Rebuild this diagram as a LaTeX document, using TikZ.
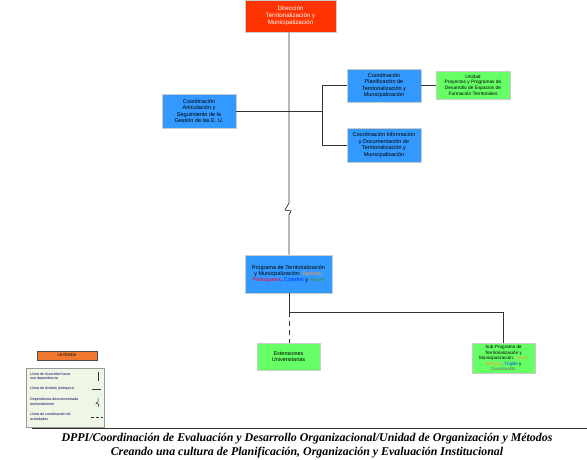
\documentclass[tikz,border=0pt]{standalone}
\usepackage{fontspec}
\setmainfont{Liberation Sans}
\newfontfamily\footfont{Liberation Serif}
\begin{document}
\begin{tikzpicture}[x=1pt,y=-1pt,
  box/.style={draw=gray!40, line width=0.6pt, inner sep=0pt, align=center, font=\fontsize{5.5}{6.4}\selectfont},
  bluebox/.style={box, fill=blue1},
  greenbox/.style={box, fill=green1},
  conn/.style={draw=black!80, line width=0.7pt},
  dconn/.style={conn, dash pattern=on 5pt off 4pt},
  legtext/.style={inner sep=0pt, anchor=west, align=left, text=black!60!blue, font=\fontsize{3.6}{4.8}\selectfont}
]
\definecolor{blue1}{HTML}{3399FF}
\definecolor{green1}{HTML}{66FF66}
\definecolor{red1}{HTML}{FF3300}
\definecolor{orange1}{HTML}{F07830}
\definecolor{legbg}{HTML}{EEF6E6}
\definecolor{tbar}{HTML}{FF9933}
\definecolor{tred}{HTML}{FF0033}
\definecolor{tblue}{HTML}{0033FF}
\definecolor{tgreen}{HTML}{339933}
\useasboundingbox (0,0) rectangle (587,460);

% boxes
\node[box, fill=red1, text=white, minimum width=91pt, minimum height=32pt, font=\fontsize{6.2}{7.2}\selectfont] (dir) at (290.5,16) {Dirección\\Territorialización y\\Municipalización};
\node[bluebox, minimum width=74pt, minimum height=34pt] (art) at (199,111) {Coordinación\\Articulación y\\Seguimiento de la\\Gestión de las E. U.};
\node[bluebox, minimum width=74pt, minimum height=33pt] (plan) at (384,85.5) {Coordinación\\Planificación de\\Territorialización y\\Municipalización};
\node[greenbox, minimum width=74pt, minimum height=28pt, font=\fontsize{4.8}{5.6}\selectfont] (unid) at (473,85) {Unidad\\Proyectos y Programas de\\Desarrollo de Espacios de\\Formación Territoriales};
\node[bluebox, minimum width=74pt, minimum height=34pt] (info) at (384,145) {Coordinación Información\\y Documentación de\\Territorialización y\\Municipalización};
\node[bluebox, minimum width=87pt, minimum height=38pt] (prog) at (288.5,274) {Programa de Territorialización\\y Municipalización: \textcolor{tbar}{Barinas,}\\\textcolor{tred}{Portuguesa}, \textcolor{tblue}{Cojedes} y \textcolor{tgreen}{Apure}};
\node[greenbox, minimum width=63pt, minimum height=27pt] (ext) at (288.5,356.5) {Extensiones\\Universitarias};
\node[greenbox, minimum width=63pt, minimum height=30pt, font=\fontsize{4.6}{5.6}\selectfont] (sub) at (503.5,358) {Sub-Programa de\\Territorialización y\\Municipalización: \textcolor{tbar}{Santa}\\\textcolor{tbar}{Bárbara}, \textcolor{tblue}{Trujillo} y\\\textcolor{black!60}{Guasdualito}};

% connectors
\coordinate (b1) at (289,203);
\coordinate (b2) at (285,210);
\coordinate (b3) at (291,211);
\coordinate (b4) at (289,215);
\draw[conn] (dir.south -| b1) -- (b1) -- (b2) -- (b3) -- (b4) -- (prog.north -| b4);
\coordinate (hR) at (322,111);
\draw[conn] (art.east) -- (hR);
\coordinate (vT) at (322,85.5);
\coordinate (vB) at (322,145);
\draw[conn] (plan.west) -- (vT) -- (vB) -- (info.west);
\draw[conn] (plan.east) -- (unid.west |- plan.east);
\coordinate (jd) at (289,312);
\coordinate (jr) at (503.5,312);
\draw[conn] (prog.south -| jd) -- (jd) -- (jr) -- (sub.north);
\draw[dconn] (jd) -- (ext.north -| jd);

% legend
\node[draw=black!70, fill=orange1, line width=0.5pt, minimum width=60pt, minimum height=9pt, inner sep=0pt, font=\fontsize{4}{4.5}\selectfont] (leyt) at (67,355.5) {LEYENDA};
\node[draw=black!40, fill=legbg, line width=0.5pt, minimum width=78pt, minimum height=59pt, inner sep=0pt] (leg) at (65,397.5) {};
\node[legtext] (l1) at (30,376.5) {Línea de Autoridad hacia\\una dependencia};
\node[legtext] (l2) at (30,389) {Línea de división jerárquica};
\node[legtext] (l3) at (30,402) {Dependencia desconcentrada\\territorialmente};
\node[legtext] (l4) at (30,416.5) {Línea de coordinación de\\actividades};
\coordinate (s1a) at (98,372); \coordinate (s1b) at (98,381);
\draw[conn] (s1a) -- (s1b);
\coordinate (s2a) at (92,389); \coordinate (s2b) at (101,389);
\draw[conn] (s2a) -- (s2b);
\coordinate (s3a) at (98,398); \coordinate (s3b) at (98,401.5); \coordinate (s3c) at (96,403.5); \coordinate (s3d) at (99,404); \coordinate (s3e) at (98,407);
\draw[conn, line width=0.5pt] (s3a) -- (s3b) -- (s3c) -- (s3d) -- (s3e);
\coordinate (s4a) at (91,417); \coordinate (s4b) at (103,417);
\draw[conn, line width=0.5pt, dash pattern=on 3pt off 2pt] (s4a) -- (s4b);

% footer
\coordinate (ra) at (32,428); \coordinate (rb) at (587,428);
\draw[black!80, line width=1pt] (ra) -- (rb);
\node[inner sep=0pt, align=center, font=\footfont\bfseries\itshape\fontsize{11.9}{14}\selectfont] (foot) at (307,445.5) {DPPI/Coordinación de Evaluación y Desarrollo Organizacional/Unidad de Organización y Métodos\\Creando una cultura de Planificación, Organización y Evaluación Institucional};
\end{tikzpicture}
\end{document}
